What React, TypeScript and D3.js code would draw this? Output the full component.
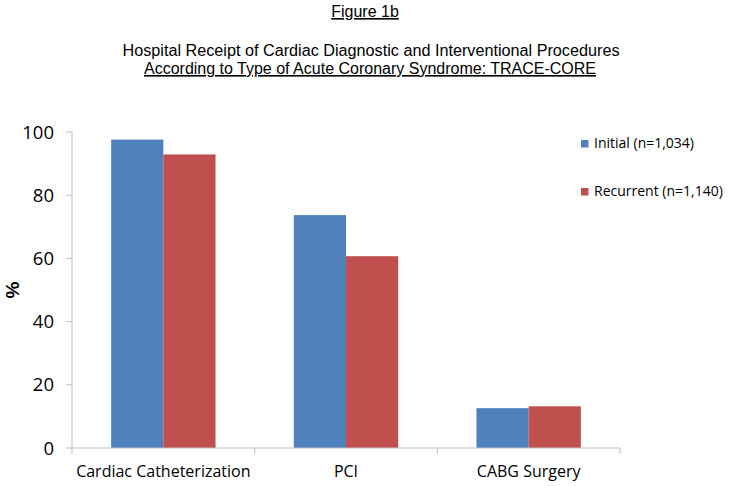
import React from "react";
import * as d3 from "d3";

const categories = ["Cardiac Catheterization", "PCI", "CABG Surgery"];
const seriesNames = ["Initial (n=1,034)", "Recurrent (n=1,140)"];
const initialValues = [97.6, 73.7, 12.6];
const recurrentValues = [92.9, 60.7, 13.2];
const yTicks = [0, 20, 40, 60, 80, 100];
const colors = ["#4F81BD", "#C0504D"];

const W = 729;
const H = 486;
const left = 72;
const right = 620;
const top = 132;
const bottom = 448;

export default function App() {
  const x = d3.scaleBand<string>().domain(categories).range([left, right]).paddingInner(0).paddingOuter(0);
  const y = d3.scaleLinear().domain([0, 100]).range([bottom, top]);
  const bw = x.bandwidth();
  const barW = bw / 3.5;
  const series = [initialValues, recurrentValues];
  const sans = "'Open Sans', sans-serif";
  const arial = "Arial, 'Liberation Sans', sans-serif";
  const axisColor = "#BFBFBF";

  return (
    <svg width={W} height={H} style={{ position: "absolute", left: 0, top: 0, background: "#fff" }}>
      <rect x={0} y={0} width={W} height={H} fill="#fff" />
      {/* Titles */}
      <text x={365} y={17} textAnchor="middle" fontFamily={arial} fontSize={16} textDecoration="underline" fill="#000">
        Figure 1b
      </text>
      <text x={371} y={56} textAnchor="middle" fontFamily={arial} fontSize={16} textLength={497} lengthAdjust="spacingAndGlyphs" fill="#000">
        Hospital Receipt of Cardiac Diagnostic and Interventional Procedures
      </text>
      <text x={370} y={74} textAnchor="middle" fontFamily={arial} fontSize={16} textLength={452} lengthAdjust="spacingAndGlyphs" textDecoration="underline" fill="#000">
        According to Type of Acute Coronary Syndrome: TRACE-CORE
      </text>

      {/* Bars */}
      {categories.map((c, i) =>
        series.map((vals, s) => {
          const x0 = (x(c) as number) + (bw - 2 * barW) / 2 + s * barW;
          return (
            <rect
              key={c + s}
              x={x0}
              y={y(vals[i])}
              width={barW}
              height={bottom - y(vals[i])}
              fill={colors[s]}
            />
          );
        })
      )}

      {/* Y axis */}
      <line x1={left} x2={left} y1={top} y2={bottom} stroke={axisColor} strokeWidth={1} />
      {yTicks.map((t) => (
        <g key={t}>
          <line x1={left - 6} x2={left} y1={y(t)} y2={y(t)} stroke={axisColor} />
          <text x={54} y={y(t)} dy="0.36em" textAnchor="end" fontFamily={sans} fontSize={18.5} fill="#000">
            {t}
          </text>
        </g>
      ))}
      <text
        transform={`translate(19, ${(top + bottom) / 2}) rotate(-90)`}
        textAnchor="middle"
        fontFamily={arial}
        fontSize={19}
        fontWeight="bold"
        fill="#000"
      >
        %
      </text>

      {/* X axis */}
      <line x1={left} x2={right} y1={bottom} y2={bottom} stroke={axisColor} strokeWidth={1} />
      {[...categories.map((c) => x(c) as number), right].map((p, i) => (
        <line key={i} x1={p} x2={p} y1={bottom} y2={bottom + 6} stroke={axisColor} />
      ))}
      {categories.map((c) => (
        <text
          key={c}
          x={(x(c) as number) + bw / 2}
          y={477}
          textAnchor="middle"
          fontFamily={sans}
          fontSize={16}
          fill="#000"
        >
          {c}
        </text>
      ))}

      {/* Legend */}
      {seriesNames.map((n, i) => (
        <g key={n} transform={`translate(581, ${148 + i * 48})`}>
          <rect x={0} y={-8} width={7.5} height={7.5} fill={colors[i]} />
          <text x={13} y={0} fontFamily={sans} fontSize={14} fill="#000">
            {n}
          </text>
        </g>
      ))}
    </svg>
  );
}
